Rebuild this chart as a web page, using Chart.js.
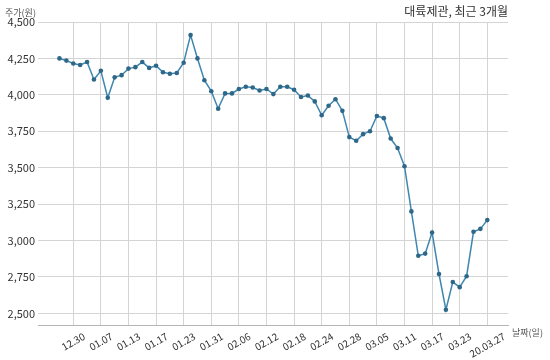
<!DOCTYPE html>
<html>
<head>
<meta charset="utf-8">
<script src="https://cdn.jsdelivr.net/npm/chart.js@4"></script>
<style>
    body { margin: 0; background: #fff; }
    #wrap { width: 550px; height: 360px; }
</style>
</head>
<body>
<div id="wrap"><canvas id="priceChart" width="550" height="360"></canvas></div>
<script>
const dates = [
    '12.26', '12.27', '12.30',
    '01.02', '01.03', '01.06', '01.07', '01.08', '01.09', '01.10', '01.13', '01.14', '01.15', '01.16', '01.17',
    '01.20', '01.21', '01.22', '01.23', '01.28', '01.29', '01.30', '01.31',
    '02.03', '02.04', '02.05', '02.06', '02.07', '02.10', '02.11', '02.12', '02.13', '02.14',
    '02.17', '02.18', '02.19', '02.20', '02.21', '02.24', '02.25', '02.26', '02.27', '02.28',
    '03.02', '03.03', '03.04', '03.05', '03.06', '03.09', '03.10', '03.11', '03.12', '03.13',
    '03.16', '03.17', '03.18', '03.19', '03.20', '03.23', '03.24', '03.25', '03.26', '20.03.27'
];
const prices = [
    4250, 4235, 4215, 4205, 4225, 4105, 4165, 3980, 4120, 4135,
    4180, 4190, 4225, 4185, 4200, 4155, 4145, 4150, 4220, 4410,
    4250, 4100, 4025, 3905, 4010, 4010, 4040, 4055, 4050, 4030,
    4040, 4005, 4055, 4055, 4035, 3985, 3995, 3955, 3860, 3925,
    3970, 3890, 3710, 3685, 3730, 3750, 3855, 3840, 3700, 3635,
    3510, 3200, 2895, 2910, 3055, 2770, 2525, 2715, 2680, 2755,
    3060, 3080, 3140
];
// every 4th trading day gets a label
const xTickIdx = [2, 6, 10, 14, 18, 22, 26, 30, 34, 38, 42, 46, 50, 54, 58, 62];
const yTicks = [2500, 2750, 3000, 3250, 3500, 3750, 4000, 4250, 4500];

const FONT = "'Noto Sans CJK KR', 'Noto Sans', sans-serif";
const gridColor = '#d4d4d4';

const textPlugin = {
    id: 'texts',
    afterDraw(chart) {
        const ctx = chart.ctx;
        const xs = chart.scales.x;
        const bottom = chart.chartArea.bottom;
        ctx.save();
        ctx.fillStyle = '#333';

        // rotated date labels, centred under their tick
        ctx.font = '10px ' + FONT;
        const ang = 30 * Math.PI / 180;
        xTickIdx.forEach(i => {
            const label = dates[i];
            const w = ctx.measureText(label).width;
            const h = w * Math.sin(ang) + 10 * Math.cos(ang);
            ctx.save();
            ctx.translate(xs.getPixelForValue(i), bottom + 6 + h / 2);
            ctx.rotate(-ang);
            ctx.textAlign = 'center';
            ctx.textBaseline = 'middle';
            ctx.fillText(label, 0, 0);
            ctx.restore();
        });

        ctx.font = '12px ' + FONT;
        ctx.textAlign = 'right';
        ctx.textBaseline = 'middle';
        ctx.fillText('대륙제관, 최근 3개월', 508, 11);

        ctx.fillStyle = '#555';
        ctx.font = '9px ' + FONT;
        ctx.textAlign = 'left';
        ctx.fillText('주가(원)', 5, 13);
        ctx.fillText('날짜(일)', 512, 333);
        ctx.restore();
    }
};

window.addEventListener('load', () => {
    const canvas = document.getElementById('priceChart');
    new Chart(canvas.getContext('2d'), {
        type: 'line',
        data: {
            datasets: [{
                data: prices.map((p, i) => ({ x: i, y: p })),
                borderColor: '#3f87b0',
                borderWidth: 1.5,
                pointRadius: 2.3,
                pointBorderWidth: 0,
                pointBackgroundColor: '#2e6788',
                tension: 0,
                fill: false
            }]
        },
        options: {
            responsive: false,
            animation: false,
            devicePixelRatio: 1,
            layout: { padding: { top: 22, right: 42, left: 0, bottom: 0 } },
            plugins: { legend: { display: false }, tooltip: { enabled: false } },
            scales: {
                x: {
                    type: 'linear',
                    min: -3.11,
                    max: 65,
                    afterBuildTicks: scale => { scale.ticks = xTickIdx.map(v => ({ value: v })); },
                    afterFit: scale => { scale.height = 35; },
                    ticks: { display: false },
                    grid: { color: gridColor, drawTicks: false },
                    border: { display: true, color: '#b5b5b5' }
                },
                y: {
                    min: 2420,
                    max: 4500,
                    afterBuildTicks: scale => { scale.ticks = yTicks.map(v => ({ value: v })); },
                    afterFit: scale => { scale.width = 38; },
                    ticks: {
                        font: { family: FONT, size: 11 },
                        color: '#333',
                        padding: 3,
                        callback: v => v.toLocaleString('en-US')
                    },
                    grid: { color: gridColor, drawTicks: false },
                    border: { display: false }
                }
            }
        },
        plugins: [textPlugin]
    });
});
</script>
</body>
</html>
